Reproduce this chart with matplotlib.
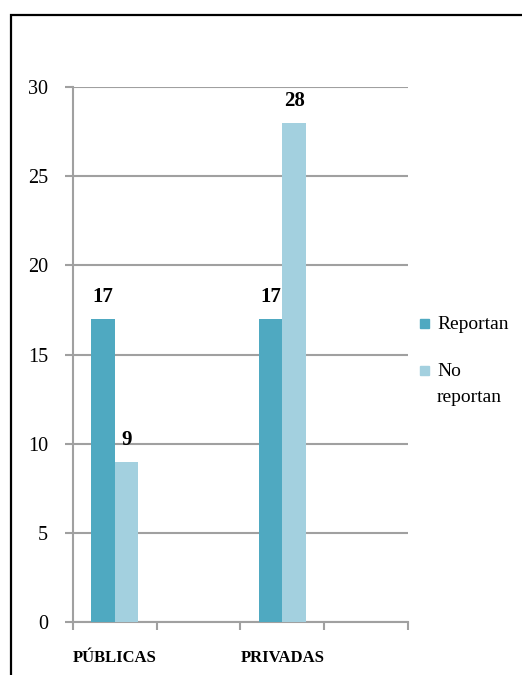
import numpy as np
import matplotlib
matplotlib.use("Agg")
from matplotlib import pyplot as plt
from matplotlib.patches import Rectangle

# reporting counts by school type (4 slots on the axis, two of them empty)
categories = ["PÚBLICAS", "", "PRIVADAS", ""]
reportan = [17, 0, 17, 0]
no_reportan = [9, 0, 28, 0]
series_names = ["Reportan", "No\nreportan"]
y_ticks = [0, 5, 10, 15, 20, 25, 30]

dark = "#4FA9C1"
light = "#A3D0DF"
grey = "#A0A0A0"

plt.rcParams['font.family'] = ['Liberation Serif', 'DejaVu Serif']

fig = plt.figure(figsize=(5.22, 6.75), dpi=100)
ax = fig.add_axes([73 / 522, 1 - 622 / 675, 335 / 522, 535 / 675])

x = np.arange(len(categories))
w = 0.28
shown = [0, 2]
b1 = ax.bar(x[shown] - w, [reportan[i] for i in shown], width=w, align="edge",
            color=dark, zorder=3)
b2 = ax.bar(x[shown], [no_reportan[i] for i in shown], width=w, align="edge",
            color=light, zorder=3)

for bars in (b1, b2):
    for r in bars:
        ax.annotate("%d" % r.get_height(), (r.get_x() + r.get_width() / 2, r.get_height()),
                    xytext=(0, 8.5), textcoords="offset points", ha="center", va="bottom",
                    fontsize=15, fontweight="bold")

ax.set_xlim(-0.5, 3.5)
ax.set_ylim(0, 30)
ax.set_yticks(y_ticks)
ax.yaxis.grid(True, color=grey, linewidth=1.5, zorder=0)
ax.tick_params(axis="y", length=6, width=1.5, color=grey, pad=12, labelsize=14.5)

# category boundaries get tick marks, names sit on minor ticks
ax.set_xticks(np.arange(-0.5, 4, 1))
ax.set_xticklabels([])
ax.set_xticks(x[shown], minor=True)
ax.set_xticklabels([categories[i] for i in shown], minor=True, fontweight="bold", fontsize=12)
ax.tick_params(axis="x", which="major", length=6, width=1.5, color=grey)
ax.tick_params(axis="x", which="minor", length=0, pad=20)

for s in ("top", "right"):
    ax.spines[s].set_visible(False)
for s in ("left", "bottom"):
    ax.spines[s].set_color(grey)
    ax.spines[s].set_linewidth(1.5)

# legend: square swatch next to the first line of each name
sw = 9 / 522
for (name, color, yc) in zip(series_names, (dark, light), (1 - 323 / 675, 1 - 370 / 675)):
    fig.patches.append(Rectangle((420 / 522, yc - 4.5 / 675), sw, 9 / 675,
                                 transform=fig.transFigure, color=color))
    fig.text(437 / 522, yc + 7 / 675, name, ha="left", va="top",
             fontsize=14, linespacing=1.7)

# outer frame
fig.patches.append(Rectangle((11 / 522, -0.1), 1.2, 1 - 15 / 675 + 0.1,
                             transform=fig.transFigure, fill=False,
                             edgecolor="black", linewidth=1.6))

fig.savefig("out.png", dpi=100)
